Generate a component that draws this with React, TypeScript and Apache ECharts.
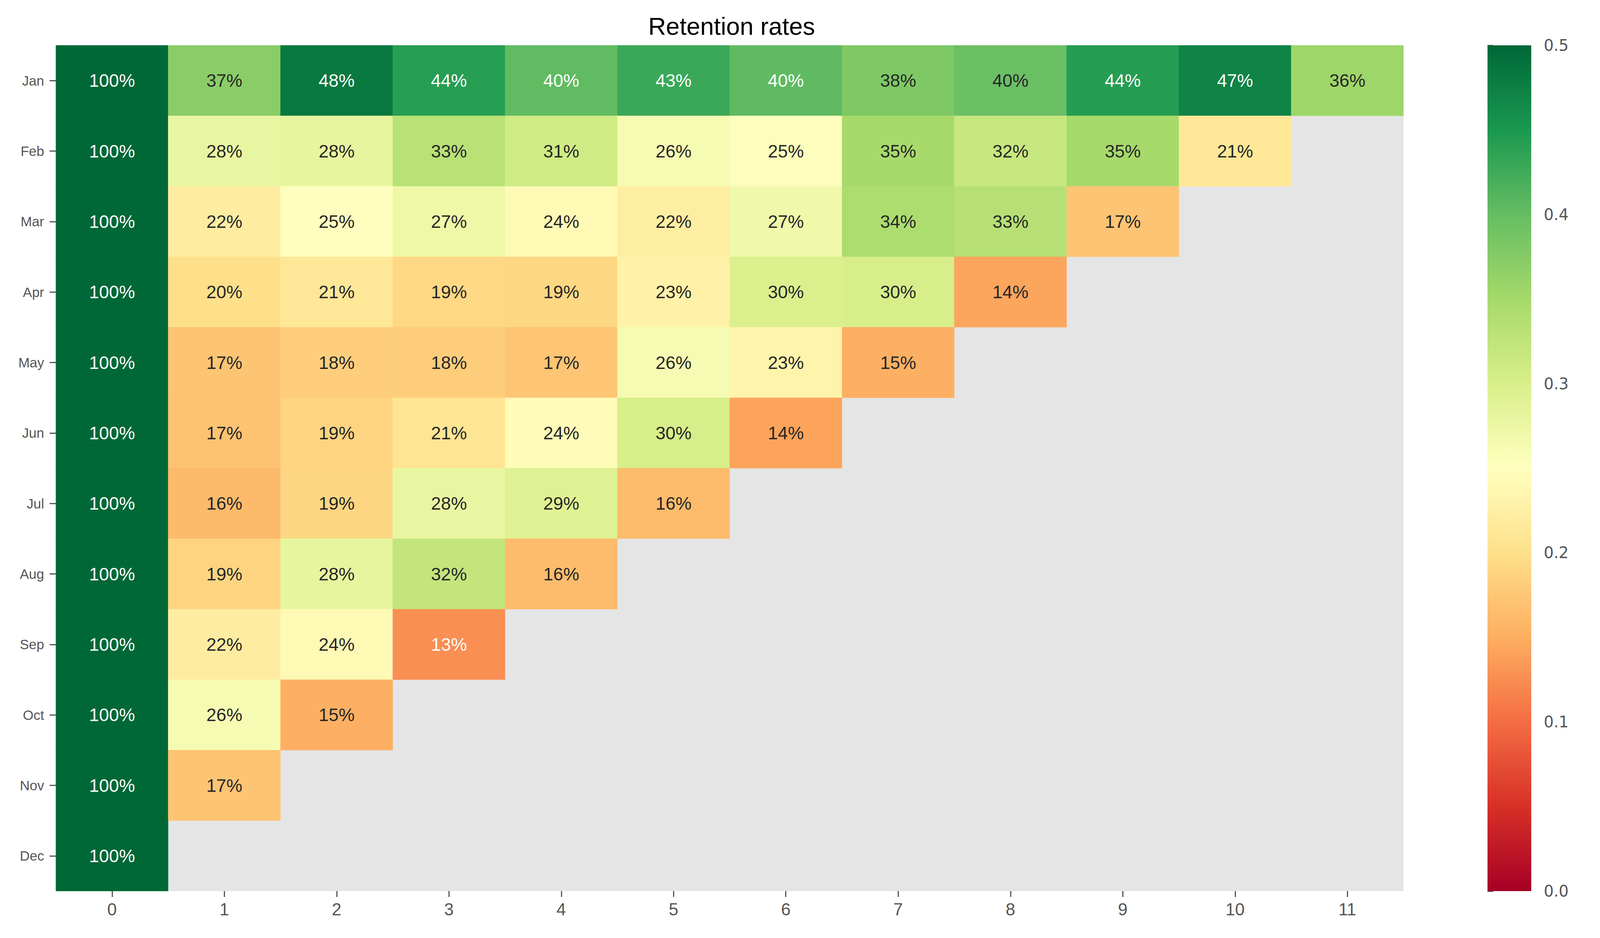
import React, { useEffect, useRef } from "react";
import * as echarts from "echarts";

const months = ["Jan", "Feb", "Mar", "Apr", "May", "Jun", "Jul", "Aug", "Sep", "Oct", "Nov", "Dec"];
const periods = ["0", "1", "2", "3", "4", "5", "6", "7", "8", "9", "10", "11"];

const jan = [1.0, 0.372, 0.482, 0.442, 0.403, 0.429, 0.404, 0.381, 0.396, 0.443, 0.471, 0.356];
const feb = [1.0, 0.279, 0.282, 0.332, 0.31, 0.262, 0.252, 0.348, 0.318, 0.349, 0.212];
const mar = [1.0, 0.221, 0.249, 0.273, 0.241, 0.222, 0.27, 0.343, 0.334, 0.172];
const apr = [1.0, 0.2, 0.212, 0.192, 0.191, 0.228, 0.298, 0.302, 0.143];
const may = [1.0, 0.172, 0.182, 0.181, 0.173, 0.262, 0.232, 0.152];
const jun = [1.0, 0.171, 0.188, 0.208, 0.243, 0.302, 0.142];
const jul = [1.0, 0.162, 0.19, 0.279, 0.292, 0.163];
const aug = [1.0, 0.188, 0.281, 0.322, 0.164];
const sep = [1.0, 0.221, 0.241, 0.126];
const oct = [1.0, 0.262, 0.152];
const nov = [1.0, 0.172];
const dec = [1.0];

const rows = [jan, feb, mar, apr, may, jun, jul, aug, sep, oct, nov, dec];

const colorMin = 0;
const colorMax = 0.5;
const colorTicks = 0.1;
const rdYlGn = [
  "#a50026", "#d73027", "#f46d43", "#fdae61", "#fee08b", "#ffffbf",
  "#d9ef8b", "#a6d96a", "#66bd63", "#1a9850", "#006837",
];

function hexToRgb(h: string) {
  return [parseInt(h.slice(1, 3), 16), parseInt(h.slice(3, 5), 16), parseInt(h.slice(5, 7), 16)];
}

function cmap(v: number) {
  let t = (v - colorMin) / (colorMax - colorMin);
  t = Math.max(0, Math.min(1, t));
  const pos = t * (rdYlGn.length - 1);
  const i = Math.min(Math.floor(pos), rdYlGn.length - 2);
  const f = pos - i;
  const a = hexToRgb(rdYlGn[i]);
  const b = hexToRgb(rdYlGn[i + 1]);
  return a.map((c, k) => c + (b[k] - c) * f);
}

function luminance(rgb: number[]) {
  const lin = rgb.map((c) => {
    const s = c / 255;
    return s <= 0.03928 ? s / 12.92 : Math.pow((s + 0.055) / 1.055, 2.4);
  });
  return 0.2126 * lin[0] + 0.7152 * lin[1] + 0.0722 * lin[2];
}

export default function App() {
  const ref = useRef<HTMLDivElement>(null);
  useEffect(() => {
    document.body.style.margin = "0";
    if (!ref.current) return;
    const chart = echarts.init(ref.current, undefined, { renderer: "svg" });

    const data: any[] = [];
    rows.forEach((row, y) => {
      row.forEach((v, x) => {
        const lum = luminance(cmap(v));
        data.push({
          value: [x, y, v],
          label: { color: lum > 0.408 ? "#262626" : "#ffffff" },
        });
      });
    });

    const stops = rdYlGn.map((c, i) => ({ offset: i / (rdYlGn.length - 1), color: c }));
    const font = "'Liberation Sans', Arial, sans-serif";
    const axisGray = "#555555";

    chart.setOption({
      animation: false,
      backgroundColor: "#ffffff",
      title: {
        text: "Retention rates",
        left: 1868,
        top: 30,
        textAlign: "center",
        textStyle: { fontFamily: font, fontSize: 63, fontWeight: "normal", color: "#000000" },
      },
      grid: [
        {
          left: 143,
          top: 116,
          width: 3450,
          height: 2164,
          show: true,
          backgroundColor: "#e5e5e5",
          borderWidth: 0,
        },
        { left: 3808, top: 116, width: 112, height: 2164, show: false },
      ],
      xAxis: [
        {
          type: "category",
          gridIndex: 0,
          data: periods,
          position: "bottom",
          axisLine: { show: false },
          axisTick: { show: true, alignWithLabel: true, length: 15, lineStyle: { color: axisGray, width: 3 } },
          axisLabel: { fontFamily: font, fontSize: 44, color: axisGray, margin: 24 },
          splitLine: { show: false },
        },
        { type: "value", gridIndex: 1, min: 0, max: 1, show: false },
      ],
      yAxis: [
        {
          type: "category",
          gridIndex: 0,
          data: months,
          inverse: true,
          axisLine: { show: false },
          axisTick: { show: true, alignWithLabel: true, length: 16, lineStyle: { color: axisGray, width: 3 } },
          axisLabel: { fontFamily: font, fontSize: 35, color: axisGray, margin: 30 },
          splitLine: { show: false },
        },
        {
          type: "value",
          gridIndex: 1,
          min: colorMin,
          max: colorMax,
          interval: colorTicks,
          position: "right",
          axisLine: { show: false },
          axisTick: { show: true, length: 15, lineStyle: { color: axisGray, width: 3 } },
          axisLabel: {
            fontFamily: "'DejaVu Sans', sans-serif",
            fontSize: 40,
            color: axisGray,
            margin: 32,
            formatter: (v: number) => v.toFixed(1),
          },
          splitLine: { show: false },
        },
      ],
      visualMap: {
        show: false,
        type: "continuous",
        min: colorMin,
        max: colorMax,
        seriesIndex: 0,
        inRange: { color: rdYlGn },
      },
      series: [
        {
          type: "heatmap",
          xAxisIndex: 0,
          yAxisIndex: 0,
          data,
          label: {
            show: true,
            fontFamily: font,
            fontSize: 46,
            formatter: (p: any) => Math.round(p.value[2] * 100) + "%",
          },
          itemStyle: { borderWidth: 0 },
          emphasis: { disabled: true },
        },
        {
          type: "custom",
          xAxisIndex: 1,
          yAxisIndex: 1,
          silent: true,
          data: [[0, 0]],
          renderItem: (params: any, api: any) => {
            const p0 = api.coord([0, colorMin]);
            const p1 = api.coord([1, colorMax]);
            return {
              type: "rect",
              shape: { x: p0[0], y: p1[1], width: p1[0] - p0[0], height: p0[1] - p1[1] },
              style: { fill: new echarts.graphic.LinearGradient(0, 1, 0, 0, stops) },
            };
          },
        },
      ],
    });

    return () => chart.dispose();
  }, []);

  return <div ref={ref} style={{ width: 4500, height: 2400 }} />;
}
